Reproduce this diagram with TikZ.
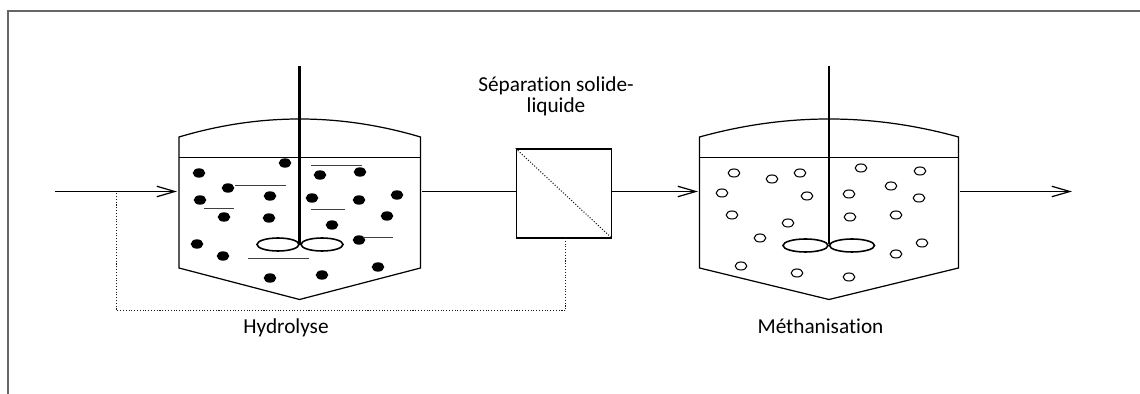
\documentclass[tikz,border=0pt]{standalone}
\usepackage{fontspec}
\setmainfont[Ligatures=NoCommon]{Carlito}
\usetikzlibrary{arrows.meta}
\tikzset{
	paroi/.style={line width=0.7pt},
	arbre/.style={line width=1.3pt},
	pale/.style={line width=0.9pt},
	flux/.style={line width=0.7pt, -{Straight Barb[length=0.36cm, width=0.21cm]}},
	trait/.style={line width=0.5pt, black!75},
	retour/.style={line width=0.6pt, densely dotted, black!90},
	legende/.style={anchor=base, font=\fontsize{12.1pt}{12.5pt}\selectfont, text=black}
}
\begin{document}
\begin{tikzpicture}[x=0.02cm, y=-0.02cm]
	\useasboundingbox (0, 0) rectangle (1140, 394);
	\draw[line width=0.9pt, black!60] (1140, 11) -- (8, 11) -- (8, 394);

	% premier reacteur
	\draw[paroi] (179, 137) .. controls (259.5, 113) and (339.5, 113) .. (420.5, 137) -- (420.5, 268) -- (299.5, 299.5) -- (179, 268) -- cycle;
	\draw[paroi] (179, 157.5) -- (420.5, 157.5);
	\draw[arbre] (299.5, 66) -- (299.5, 244);
	\draw[pale] (278, 244.5) ellipse (21 and 6.5);
	\draw[pale] (322, 244.5) ellipse (21 and 6.5);
	\foreach \x/\y in {285/163, 199/173, 320/175, 360/172, 228/188, 270/196, 200/200, 312/198, 359/200, 397/195, 224/217, 269/218, 387/216, 332/225, 359/240, 197/244, 223/256, 378/267, 322/275, 270/278}
		\fill (\x, \y) ellipse (6.3 and 4.7);
	\draw[trait] (311, 165) -- (362, 165);
	\draw[trait] (235, 185.5) -- (286, 185.5);
	\draw[trait] (204, 208.5) -- (234, 208.5);
	\draw[trait] (311, 209) -- (345, 209);
	\draw[trait] (363, 237.5) -- (393, 237.5);
	\draw[trait] (248, 258.5) -- (309, 258.5);

	% second reacteur
	\draw[paroi] (699.5, 137) .. controls (786, 113) and (872, 113) .. (958.5, 137) -- (958.5, 268) -- (829, 299.5) -- (699.5, 268) -- cycle;
	\draw[paroi] (699.5, 157.5) -- (958.5, 157.5);
	\draw[arbre] (829, 66) -- (829, 244);
	\draw[pale] (805.5, 245.5) ellipse (22.5 and 6.5);
	\draw[pale] (852, 245.5) ellipse (22.5 and 6.5);
	\foreach \x/\y in {734/173, 772/179, 800/173, 861/168, 920/171, 891/186, 722/193, 807/196, 849/194, 919/198, 732/215, 850/217, 896/215, 788/223, 760/238, 922/243, 896/254, 741/266, 797/273, 849/277}
		\draw[line width=0.6pt] (\x, \y) ellipse (5.8 and 4);

	% separation
	\node[draw, line width=0.9pt, minimum width=1.9cm, minimum height=1.77cm, inner sep=0pt] (sep) at (564, 193.5) {};
	\draw[retour] (sep.north west) -- (sep.south east);
	\node[legende, align=center] (titresep) at (556, 113) {Séparation solide-\\liquide};
	\node[legende] (titrehydro) at (286, 334) {Hydrolyse};
	\node[legende] (titremeth) at (820.5, 334) {Méthanisation};

	% flux
	\coordinate (entree) at (55, 191.5);
	\coordinate (entreeR) at (177, 191.5);
	\coordinate (sortieR) at (422, 191.5);
	\coordinate (entreeM) at (698, 191.5);
	\coordinate (sortieM) at (959.5, 191.5);
	\coordinate (sortie) at (1072, 191.5);
	\coordinate (purge) at (565.7, 238);
	\coordinate (recyc) at (116.7, 191.5);
	\draw[flux] (entree) -- (entreeR);
	\draw[paroi] (sortieR) -- (sortieR -| sep.west);
	\draw[flux] (entreeM -| sep.east) -- (entreeM);
	\draw[flux] (sortieM) -- (sortie);
	\draw[retour] (purge) -- (565.7, 310.7) -- (116.7, 310.7) -- (recyc);
\end{tikzpicture}
\end{document}
